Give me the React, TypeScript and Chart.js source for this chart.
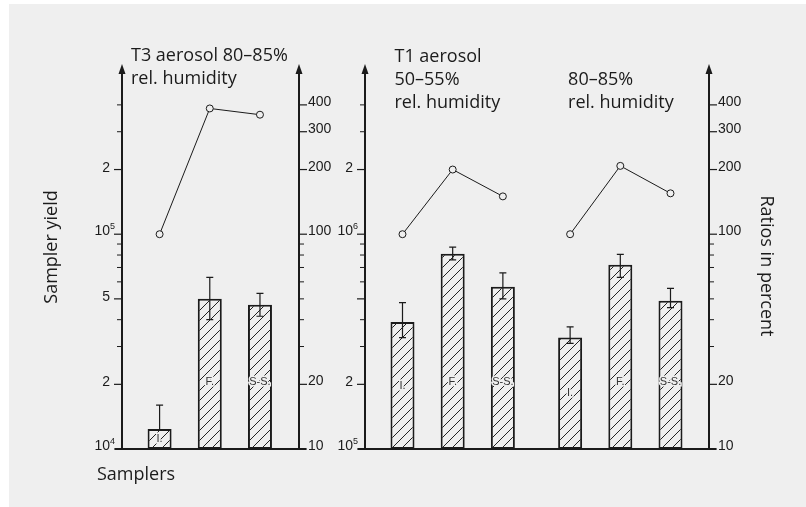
import React, { useEffect, useRef } from "react";
import { Chart, registerables } from "chart.js";

Chart.register(...registerables);

// ---------- data ----------
const samplers = ["I.", "F.", "S-S."];

const t3Title = ["T3 aerosol 80–85%", "rel. humidity"];
const t3Yield = [1.24e4, 5.0e4, 4.7e4];
const t3YieldHigh = [1.6e4, 6.3e4, 5.3e4];
const t3YieldLow = [1.24e4, 4.0e4, 4.15e4];
const t3Ratio = [100, 385, 360];

const t1LowTitle = ["T1 aerosol", "50–55%", "rel. humidity"];
const t1LowYield = [3.9e5, 8.1e5, 5.7e5];
const t1LowYieldHigh = [4.8e5, 8.7e5, 6.6e5];
const t1LowYieldLow = [3.3e5, 7.6e5, 5.0e5];
const t1LowRatio = [100, 200, 150];

const t1HighTitle = ["80–85%", "rel. humidity"];
const t1HighYield = [3.3e5, 7.2e5, 4.9e5];
const t1HighYieldHigh = [3.7e5, 8.05e5, 5.6e5];
const t1HighYieldLow = [3.1e5, 6.3e5, 4.55e5];
const t1HighRatio = [100, 208, 155];

const t3YieldTickValues = [1e4, 2e4, 5e4, 1e5, 2e5];
const t3YieldTickLabels = ["10^4", "2", "5", "10^5", "2"];
const t3YieldMinorTicks = [3e4, 4e4, 6e4, 7e4, 8e4, 9e4, 3e5, 4e5];

const t1YieldTickValues = [1e5, 2e5, 5e5, 1e6, 2e6];
const t1YieldTickLabels = ["10^5", "2", "", "10^6", "2"];
const t1YieldMinorTicks = [3e5, 4e5, 6e5, 7e5, 8e5, 9e5, 3e6, 4e6];

const ratioTickValues = [10, 20, 100, 200, 300, 400];
const ratioTickLabels = ["10", "20", "100", "200", "300", "400"];
const ratioMinorTicks = [30, 40, 50, 60, 70, 80, 90];

const yAxisTitle = "Sampler yield";
const xAxisTitle = "Samplers";
const ratioAxisTitle = "Ratios in percent";

// ---------- layout / style ----------
const INK = "#1b1b1b";
const BG = "#efefef";
const TICK_FONT = '14px "Liberation Sans", Arial, sans-serif';
const SUP_FONT = '9px "Liberation Sans", Arial, sans-serif';
const BAR_FONT = '11px "Liberation Sans", Arial, sans-serif';
const TITLE_FONT = '18px "Open Sans", sans-serif';

const GROUP_START = [0, 4.84, 8.18];
const AXIS_GAP_LEFT = 0.75;
const AXIS_GAP_RIGHT = 0.77;
const TITLE_OFFSET = [-0.57, -0.16, -0.04];
const TITLE_BASE = [61, 62, 84.5];
const LINE_H = 23;

const groups = [
  { title: t3Title, yAxis: "yYield1", values: t3Yield, high: t3YieldHigh, low: t3YieldLow, ratio: t3Ratio },
  { title: t1LowTitle, yAxis: "yYield2", values: t1LowYield, high: t1LowYieldHigh, low: t1LowYieldLow, ratio: t1LowRatio },
  { title: t1HighTitle, yAxis: "yYield2", values: t1HighYield, high: t1HighYieldHigh, low: t1HighYieldLow, ratio: t1HighRatio },
];

const panels = [
  { yAxis: "yYield1", groups: [0], ticks: t3YieldTickValues, labels: t3YieldTickLabels, minor: t3YieldMinorTicks },
  { yAxis: "yYield2", groups: [1, 2], ticks: t1YieldTickValues, labels: t1YieldTickLabels, minor: t1YieldMinorTicks },
];

function arrow(ctx: CanvasRenderingContext2D, x: number, top: number) {
  ctx.beginPath();
  ctx.moveTo(x, top);
  ctx.lineTo(x - 3.5, top + 10);
  ctx.lineTo(x + 3.5, top + 10);
  ctx.closePath();
  ctx.fill();
}

function drawPowerLabel(ctx: CanvasRenderingContext2D, text: string, right: number, baseline: number) {
  const [base, exp] = text.split("^");
  ctx.font = SUP_FONT;
  const ws = ctx.measureText(exp).width;
  ctx.textAlign = "left";
  ctx.fillText(exp, right - ws, baseline - 6);
  ctx.font = TICK_FONT;
  ctx.textAlign = "right";
  ctx.fillText(base, right - ws, baseline);
}

const bgPlugin = {
  id: "bgPlugin",
  beforeDraw(chart: any) {
    const { ctx, width, height } = chart;
    ctx.save();
    ctx.fillStyle = "#ffffff";
    ctx.fillRect(0, 0, width, height);
    ctx.fillStyle = BG;
    ctx.fillRect(9, 4, width - 9, height - 4);
    ctx.restore();
  },
};

const decorPlugin = {
  id: "decorPlugin",
  afterDatasetsDraw(chart: any) {
    const { ctx, chartArea: area, scales } = chart;
    const xs = scales.x;
    const rs = scales.yRatio;
    ctx.save();
    ctx.fillStyle = INK;
    ctx.strokeStyle = INK;

    // error bars + bar labels
    groups.forEach((g, gi) => {
      const ys = scales[g.yAxis];
      g.values.forEach((v, i) => {
        const x = xs.getPixelForValue(GROUP_START[gi] + i);
        const yv = ys.getPixelForValue(v);
        const yh = ys.getPixelForValue(g.high[i]);
        const yl = ys.getPixelForValue(g.low[i]);
        ctx.lineWidth = 1.2;
        ctx.beginPath();
        ctx.moveTo(x, yl);
        ctx.lineTo(x, yh);
        ctx.moveTo(x - 3.5, yh);
        ctx.lineTo(x + 3.5, yh);
        if (g.low[i] < v) {
          ctx.moveTo(x - 3.5, yl);
          ctx.lineTo(x + 3.5, yl);
        }
        ctx.stroke();

        const base = area.bottom;
        const ly = Math.max(base - 67, (yv + base) / 2);
        ctx.font = BAR_FONT;
        ctx.textAlign = "center";
        ctx.textBaseline = "middle";
        ctx.lineWidth = 3;
        ctx.strokeStyle = BG;
        ctx.strokeText(samplers[i], x, ly);
        ctx.fillStyle = "#333";
        ctx.fillText(samplers[i], x, ly);
        ctx.fillStyle = INK;
        ctx.strokeStyle = INK;
      });
    });

    // axes
    panels.forEach((p) => {
      const ys = scales[p.yAxis];
      const first = GROUP_START[p.groups[0]];
      const last = GROUP_START[p.groups[p.groups.length - 1]] + samplers.length - 1;
      const lx = Math.round(xs.getPixelForValue(first - AXIS_GAP_LEFT));
      const rx = Math.round(xs.getPixelForValue(last + AXIS_GAP_RIGHT));
      const bottom = area.bottom;

      // baseline
      ctx.lineWidth = 2;
      ctx.beginPath();
      ctx.moveTo(lx - 7, bottom);
      ctx.lineTo(rx + 7, bottom);
      ctx.stroke();

      // left axis
      ctx.beginPath();
      ctx.moveTo(lx, bottom);
      ctx.lineTo(lx, area.top + 6);
      ctx.stroke();
      arrow(ctx, lx, area.top);

      ctx.textBaseline = "alphabetic";
      p.ticks.forEach((v, i) => {
        const y = ys.getPixelForValue(v);
        ctx.lineWidth = 1.2;
        ctx.beginPath();
        ctx.moveTo(lx - 8, y);
        ctx.lineTo(lx, y);
        ctx.stroke();
        const lab = p.labels[i];
        if (!lab) return;
        if (lab.includes("^")) {
          drawPowerLabel(ctx, lab, lx - 7, y + 1);
        } else {
          ctx.font = TICK_FONT;
          ctx.textAlign = "right";
          ctx.fillText(lab, lx - 12, y + 2);
        }
      });
      p.minor.forEach((v) => {
        const y = ys.getPixelForValue(v);
        ctx.lineWidth = 1;
        ctx.beginPath();
        ctx.moveTo(lx - 5, y);
        ctx.lineTo(lx, y);
        ctx.stroke();
      });

      // right (ratio) axis
      ctx.lineWidth = 2;
      ctx.beginPath();
      ctx.moveTo(rx, bottom);
      ctx.lineTo(rx, area.top + 6);
      ctx.stroke();
      arrow(ctx, rx, area.top);
      ratioTickValues.forEach((v, i) => {
        const y = rs.getPixelForValue(v);
        ctx.lineWidth = 1.2;
        ctx.beginPath();
        ctx.moveTo(rx, y);
        ctx.lineTo(rx + 8, y);
        ctx.stroke();
        ctx.font = TICK_FONT;
        ctx.textAlign = "left";
        ctx.fillText(ratioTickLabels[i], rx + 9, y + 1);
      });
      ratioMinorTicks.forEach((v) => {
        const y = rs.getPixelForValue(v);
        ctx.lineWidth = 1;
        ctx.beginPath();
        ctx.moveTo(rx, y);
        ctx.lineTo(rx + 5, y);
        ctx.stroke();
      });
    });

    // titles
    ctx.font = TITLE_FONT;
    ctx.textAlign = "left";
    ctx.textBaseline = "alphabetic";
    groups.forEach((g, gi) => {
      const tx = xs.getPixelForValue(GROUP_START[gi] + TITLE_OFFSET[gi]);
      g.title.forEach((line, li) => {
        ctx.fillText(line, tx, TITLE_BASE[gi] + li * LINE_H);
      });
    });

    // axis titles
    ctx.fillText(xAxisTitle, 97, 480);

    ctx.save();
    ctx.translate(52, 247);
    ctx.rotate(-Math.PI / 2);
    ctx.textAlign = "center";
    ctx.textBaseline = "middle";
    ctx.fillText(yAxisTitle, 0, 0);
    ctx.restore();

    ctx.save();
    ctx.translate(766, 266);
    ctx.rotate(Math.PI / 2);
    ctx.textAlign = "center";
    ctx.textBaseline = "middle";
    ctx.fillText(ratioAxisTitle, 0, 0);
    ctx.restore();

    ctx.restore();
  },
};

export default function App() {
  const ref = useRef<HTMLCanvasElement | null>(null);

  useEffect(() => {
    const canvas = ref.current;
    if (!canvas) return;
    const c2d = canvas.getContext("2d")!;

    const tile = document.createElement("canvas");
    tile.width = 10;
    tile.height = 10;
    const t = tile.getContext("2d")!;
    t.fillStyle = BG;
    t.fillRect(0, 0, 10, 10);
    t.strokeStyle = "#222";
    t.lineWidth = 1;
    t.beginPath();
    t.moveTo(0, 10);
    t.lineTo(10, 0);
    t.moveTo(-1, 1);
    t.lineTo(1, -1);
    t.moveTo(9, 11);
    t.lineTo(11, 9);
    t.stroke();
    const hatch = c2d.createPattern(tile, "repeat")!;

    const barSets = groups.map((g, gi) => ({
      type: "bar" as const,
      data: g.values.map((v, i) => ({ x: GROUP_START[gi] + i, y: v })),
      yAxisID: g.yAxis,
      xAxisID: "x",
      backgroundColor: hatch,
      borderColor: INK,
      borderWidth: 2,
      borderSkipped: false,
      grouped: false,
      maxBarThickness: 24,
    }));
    const lineSets = groups.map((g, gi) => ({
      type: "line" as const,
      data: g.ratio.map((v, i) => ({ x: GROUP_START[gi] + i, y: v })),
      yAxisID: "yRatio",
      xAxisID: "x",
      borderColor: INK,
      borderWidth: 1,
      pointRadius: 3.5,
      pointBackgroundColor: BG,
      pointBorderColor: INK,
      pointBorderWidth: 1,
      fill: false,
      tension: 0,
    }));

    const chart = new Chart(canvas, {
      type: "bar",
      data: { datasets: [...lineSets, ...barSets] as any },
      options: {
        animation: false,
        responsive: false,
        devicePixelRatio: 1,
        layout: { padding: { top: 64, bottom: 58, left: 0, right: 0 }, autoPadding: false },
        plugins: { legend: { display: false }, tooltip: { enabled: false } },
        scales: {
          x: {
            type: "linear",
            axis: "x",
            position: "bottom",
            min: -3.18,
            max: 12.88,
            offset: false,
            grid: { offset: false },
            display: false,
          },
          yYield1: { type: "logarithmic", axis: "y", position: "left", min: 1e4, max: 6.2e5, display: false },
          yYield2: { type: "logarithmic", axis: "y", position: "left", min: 1e5, max: 6.2e6, display: false },
          yRatio: { type: "logarithmic", axis: "y", position: "right", min: 10, max: 620, display: false },
        },
      } as any,
      plugins: [bgPlugin, decorPlugin],
    });

    const fonts: any = (document as any).fonts;
    if (fonts && fonts.load) {
      Promise.all([fonts.load(TITLE_FONT), fonts.load(TICK_FONT)])
        .then(() => chart.draw())
        .catch(() => {});
    }

    return () => chart.destroy();
  }, []);

  return (
    <div style={{ position: "fixed", left: 0, top: 0, width: 806, height: 507 }}>
      <canvas ref={ref} width={806} height={507} style={{ display: "block" }} />
    </div>
  );
}
